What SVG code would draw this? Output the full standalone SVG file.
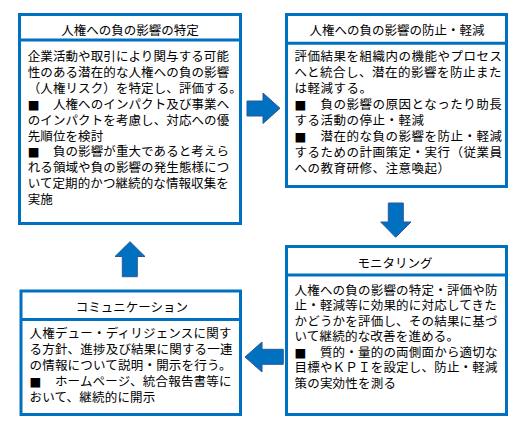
<svg xmlns="http://www.w3.org/2000/svg" width="531" height="435" viewBox="0 0 531 435">
<style>
.box{fill:#fff;stroke:#0070C0;stroke-width:3}
.div{stroke:#0070C0;stroke-width:3}
.t{font-family:"Liberation Sans","Noto Sans CJK JP","Noto Sans CJK SC",sans-serif;font-size:12.5px;fill:#000}
.sq{font-family:"DejaVu Sans","Liberation Sans",sans-serif;font-size:12.5px}
.ttl{text-anchor:middle}
.arr{fill:#0070C0;stroke:#2F5597;stroke-width:1;stroke-linejoin:miter}
</style>
<rect width="531" height="435" fill="#fff"/>
<g id="node-identify">
<rect class="box" x="19.5" y="14.5" width="221" height="209"/>
<line class="div" x1="19.5" y1="40" x2="240.5" y2="40"/>
<text class="t ttl" x="130" y="35">人権への負の影響の特定</text>
<g class="t" style="letter-spacing:0.1px">
<text x="27.7" y="61">企業活動や取引により関与する可能</text>
<text x="27.7" y="76.9">性のある潜在的な人権への負の影響</text>
<text x="27.7" y="92.8">（人権リスク）を特定し、評価する。</text>
<text x="27.7" y="108.7"><tspan class="sq">■</tspan><tspan x="52.9">人権へのインパクト及び事業へ</tspan></text>
<text x="27.7" y="124.6">のインパクトを考慮し、対応への優</text>
<text x="27.7" y="140.5">先順位を検討</text>
<text x="27.7" y="156.4"><tspan class="sq">■</tspan><tspan x="52.9">負の影響が重大であると考えら</tspan></text>
<text x="27.7" y="172.3">れる領域や負の影響の発生態様につ</text>
<text x="27.7" y="188.2">いて定期的かつ継続的な情報収集を</text>
<text x="27.7" y="204.1">実施</text>
</g>
</g>
<g id="node-prevent">
<rect class="box" x="286.5" y="14.5" width="220" height="172"/>
<line class="div" x1="286.5" y1="43.3" x2="506.5" y2="43.3"/>
<text class="t ttl" x="397" y="34.5">人権への負の影響の防止・軽減</text>
<g class="t" style="letter-spacing:0.5px">
<text x="294.5" y="60.5">評価結果を組織内の機能やプロセス</text>
<text x="294.5" y="76.5">へと統合し、潜在的影響を防止また</text>
<text x="294.5" y="92.5">は軽減する。</text>
<text x="294.5" y="108.5"><tspan class="sq">■</tspan><tspan x="320.5">負の影響の原因となったり助長</tspan></text>
<text x="294.5" y="124.5">する活動の停止・軽減</text>
<text x="294.5" y="140.5"><tspan class="sq">■</tspan><tspan x="320.5">潜在的な負の影響を防止・軽減</tspan></text>
<text x="294.5" y="156.5">するための計画策定・実行（従業員</text>
<text x="294.5" y="172.5">への教育研修、注意喚起）</text>
</g>
</g>
<g id="node-monitor">
<rect class="box" x="286.5" y="246.5" width="220" height="168"/>
<line class="div" x1="286.5" y1="275" x2="506.5" y2="275"/>
<text class="t ttl" x="395" y="267.5">モニタリング</text>
<g class="t" style="letter-spacing:0.2px">
<text x="294.5" y="294.5">人権への負の影響の特定・評価や防</text>
<text x="294.5" y="310">止・軽減等に効果的に対応してきた</text>
<text x="294.5" y="325.5">かどうかを評価し、その結果に基づ</text>
<text x="294.5" y="341">いて継続的な改善を進める。</text>
<text x="294.5" y="356.5"><tspan class="sq">■</tspan><tspan x="319.9">質的・量的の両側面から適切な</tspan></text>
<text x="294.5" y="372">目標やＫＰＩを設定し、防止・軽減</text>
<text x="294.5" y="387.5">策の実効性を測る</text>
</g>
</g>
<g id="node-communicate">
<rect class="box" x="21" y="291" width="219.5" height="123.5"/>
<line class="div" x1="21" y1="319.5" x2="240.5" y2="319.5"/>
<text class="t ttl" x="132" y="311.5">コミュニケーション</text>
<g class="t" style="letter-spacing:0.2px">
<text x="29.5" y="337.5">人権デュー・ディリジェンスに関す</text>
<text x="29.5" y="353.5">る方針、進捗及び結果に関する一連</text>
<text x="29.5" y="369.5">の情報について説明・開示を行う。</text>
<text x="29.5" y="385.5"><tspan class="sq">■</tspan><tspan x="54.9">ホームページ、統合報告書等に</tspan></text>
<text x="29.5" y="401.5">おいて、継続的に開示</text>
</g>
</g>
<g id="connectors">
<polygon class="arr" points="247,101 263,101 263,93 280,108.3 263,123.5 263,116 247,116"/>
<polygon class="arr" points="388.3,203 403.3,203 403.3,222 411,222 395.7,237.3 380.7,222 388.3,222"/>
<polygon class="arr" points="245,357 262,342 262,349.3 283.3,349.3 283.3,364.3 262,364.3 262,372"/>
<polygon class="arr" points="130,241.7 145,256.5 137.3,256.5 137.3,276.7 122.3,276.7 122.3,256.5 115,256.5"/>
</g>
</svg>
